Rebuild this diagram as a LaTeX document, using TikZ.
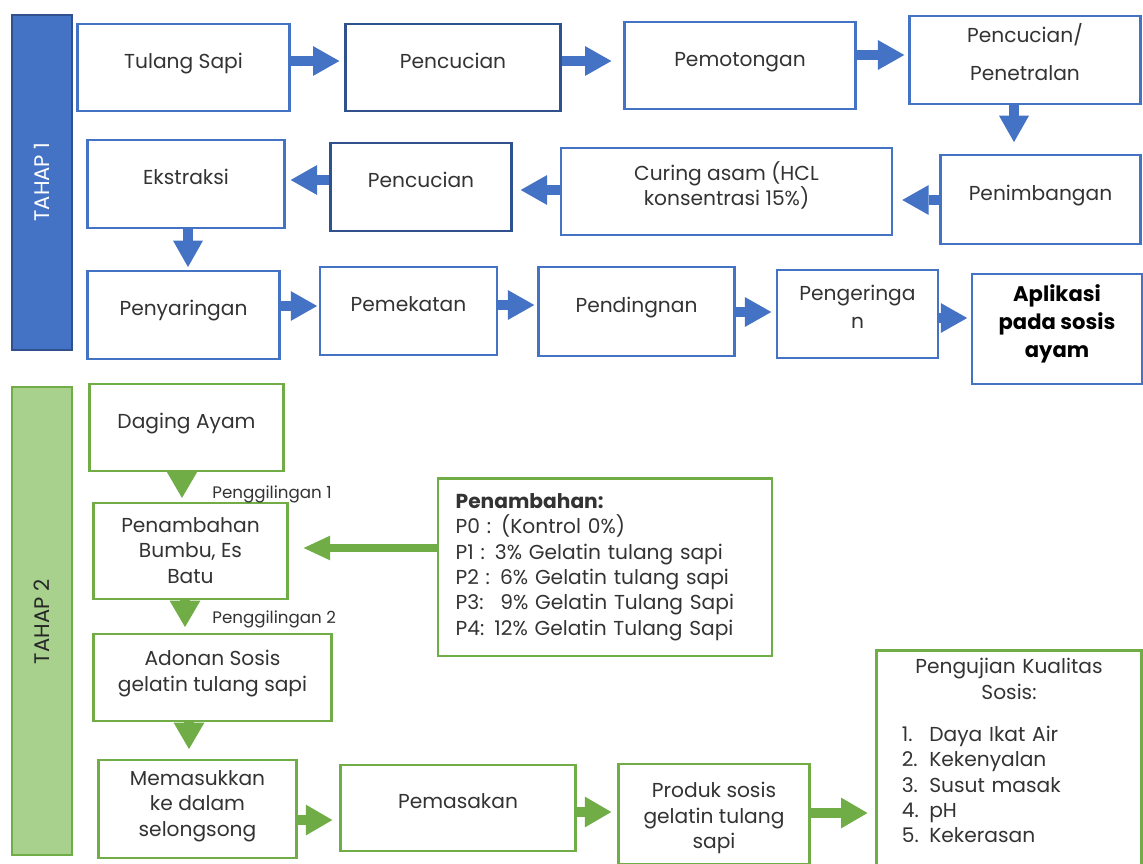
\documentclass[tikz,border=0pt]{standalone}
\usepackage{fontspec}
\setmainfont{Poppins}
\usetikzlibrary{arrows.meta}
\definecolor{bl}{HTML}{4472C4}
\definecolor{bldark}{HTML}{2F528F}
\definecolor{gr}{HTML}{70AD47}
\definecolor{grfill}{HTML}{A9D18E}
\definecolor{txt}{HTML}{333333}
\newcommand\bs[1][10pt]{\rule{0pt}{#1}}
\newcommand\es{\rule[-9pt]{0pt}{0pt}}
\tikzset{
  wh/.style 2 args={minimum width={#1*0.5669pt}, minimum height={#2*0.5669pt}},
  base/.style={inner sep=0pt, align=center, text=txt, font=\fontsize{11.5}{14.5}\selectfont},
  bbox/.style={base, draw=bl, line width=1.3pt, fill=white},
  bboxd/.style={bbox, draw=bldark},
  gbox/.style={base, draw=gr, line width=1.3pt, fill=white},
  barrow/.style={draw=bl, line width=5.5pt, -{Triangle[width=17pt,length=15pt,line width=0pt 0]}},
  garrow/.style={draw=gr, line width=6pt, -{Triangle[width=17.5pt,length=15pt,line width=0pt 0]}},
  hgarrow/.style={draw=gr, line width=4pt, -{Triangle[width=14pt,length=15pt,line width=0pt 0]}},
  smalllbl/.style={inner sep=0pt, text=txt, font=\fontsize{9.5}{11}\selectfont, anchor=west},
  tahaplbl/.style={inner sep=0pt, rotate=90, font=\fontsize{12}{14}\selectfont},
}
\begin{document}
\begin{tikzpicture}[x=0.02cm, y=-0.02cm]
\useasboundingbox (0,0) rectangle (1143,863);

% ---------- TAHAP 1 ----------
\node[draw=bldark, line width=1pt, fill=bl, inner sep=0pt, wh={60}{337}] (tahap1) at (42,182.5) {};
\node[tahaplbl, text=white] (tahap1lbl) at (42,182) {TAHAP 1};

\node[bbox,  wh={213}{87}] (tulang)  at (183.5,67.5) {\bs Tulang Sapi\es};
\node[bboxd, wh={216}{87}] (pencuc1) at (453,67.5)   {\bs Pencucian\es};
\node[bbox,  wh={232}{87}] (pemot)   at (740,65.5)   {\bs Pemotongan\es};
\node[bbox,  wh={232}{88}] (penetr)  at (1025,60)    {\bs Pencucian/\\[7.5pt]Penetralan\es};
\node[bbox,  wh={201}{89}] (penimb)  at (1040.5,199.5) {\bs Penimbangan\es};
\node[bbox,  wh={333}{87}] (curing)  at (726.5,191.5) {\bs Curing asam (HCL\\konsentrasi 15\%)\es};
\node[bboxd, wh={182}{88}] (pencuc2) at (421,187)    {\bs Pencucian\es};
\node[bbox,  wh={198}{88}] (ekstr)   at (186,184)    {\bs Ekstraksi\es};
\node[bbox,  wh={193}{88}] (penyar)  at (183.5,315)  {\bs Penyaringan\es};
\node[bbox,  wh={177}{88}] (pemek)   at (408.5,311)  {\bs Pemekatan\es};
\node[bbox,  wh={197}{89}] (pending) at (636.5,311.5) {\bs Pendingnan\es};
\node[bbox,  wh={161}{88}] (penger)  at (857.5,314)  {\bs Pengeringa\\[1.5pt]n\es};
\node[bbox,  wh={170}{110}, text=black, font=\fontsize{12}{16}\selectfont\bfseries] (aplik) at (1057,329) {\bs Aplikasi\\pada sosis\\ayam\es};

\draw[barrow, shorten >=2.8pt] (tulang.east |- 0,61)  -- (pencuc1.west |- 0,61);
\draw[barrow, shorten >=6.8pt] (pencuc1.east |- 0,61) -- (pemot.west |- 0,61);
\draw[barrow, shorten >=2.3pt] (pemot.east |- 0,55)   -- (penetr.west |- 0,55);
\draw[barrow, shorten >=6.8pt] (penetr.south -| 1014,0) -- (penimb.north -| 1014,0);
\draw[barrow, shorten >=5pt]   (penimb.west |- 0,200) -- (curing.east |- 0,200);
\draw[barrow, shorten >=4.5pt] (curing.west |- 0,190) -- (pencuc2.east |- 0,190);
\draw[barrow, shorten >=2.8pt] (pencuc2.west |- 0,180) -- (ekstr.east |- 0,180);
\draw[barrow, shorten >=1.7pt] (ekstr.south -| 188,0) -- (penyar.north -| 188,0);
\draw[barrow, shorten >=1.2pt] (penyar.east |- 0,306) -- (pemek.west |- 0,306);
\draw[barrow, shorten >=1.7pt] (pemek.east |- 0,305)  -- (pending.west |- 0,305);
\draw[barrow, shorten >=2.8pt] (pending.east |- 0,312) -- (penger.west |- 0,312);
\draw[barrow, shorten >=2.3pt] (penger.east |- 0,318) -- (aplik.west |- 0,318);

% ---------- TAHAP 2 ----------
\node[draw=gr, line width=1.5pt, fill=grfill, inner sep=0pt, wh={60}{470}] (tahap2) at (42,621) {};
\node[tahaplbl, text=black!85] (tahap2lbl) at (42,622) {TAHAP 2};

\node[gbox, wh={195}{87}] (daging)  at (186.5,427.5) {\bs Daging Ayam\es};
\node[gbox, wh={195}{88}] (bumbu)   at (190.5,551)   {\bs[16.5pt]Penambahan\\Bumbu, Es\\Batu\es};
\node[gbox, wh={239}{87}] (adonan)  at (212.5,677.5) {\bs Adonan Sosis\\gelatin tulang sapi\es};
\node[gbox, wh={199}{98}] (memasuk) at (197.5,809)   {\bs[11pt]Memasukkan\\ke dalam\\selongsong\es};
\node[gbox, wh={236}{86}] (pemasak) at (458,808)     {\bs Pemasakan\es};
\node[gbox, wh={192}{88}] (produk)  at (714,814)     {\bs[19.3pt]Produk sosis\\gelatin tulang\\sapi\es};
\node[gbox, wh={336}{178}, text width=170pt, align=left] (penamb) at (605,567)
  {\textbf{Penambahan:}\\
   P0 : (Kontrol 0\%)\\
   P1 : 3\% Gelatin tulang sapi\\
   P2 : 6\% Gelatin tulang sapi\\
   P3: \ 9\% Gelatin Tulang Sapi\\
   P4: 12\% Gelatin Tulang Sapi};
\node[gbox, wh={266}{240}, text width=130pt, align=left] (uji) at (1009,770)
  {{\centering Pengujian Kualitas\\ Sosis:\par}\vspace{12.5pt}%
   \hspace*{4pt}\begin{tabular}{@{}l@{\hspace{6pt}}l@{}}
   1. & Daya Ikat Air\\
   2. & Kekenyalan\\
   3. & Susut masak\\
   4. & pH\\
   5. & Kekerasan
   \end{tabular}\par\vspace{17.6pt}};

\node[smalllbl] (giling1) at (212,494) {Penggilingan 1};
\node[smalllbl] (giling2) at (212,619) {Penggilingan 2};

\draw[garrow, shorten >=2.3pt] (daging.south -| 182,0)  -- (bumbu.north -| 182,0);
\draw[garrow, shorten >=3.4pt] (bumbu.south -| 185,0)   -- (adonan.north -| 185,0);
\draw[garrow, shorten >=5.7pt] (adonan.south -| 189,0)  -- (memasuk.north -| 189,0);
\draw[garrow, shorten >=4pt]   (memasuk.east |- 0,820)  -- (pemasak.west |- 0,820);
\draw[garrow, shorten >=3.4pt] (pemasak.east |- 0,812)  -- (produk.west |- 0,812);
\draw[garrow, shorten >=4.5pt] (produk.east |- 0,813)   -- (uji.west |- 0,813);
\draw[hgarrow, shorten >=8.5pt] (penamb.west |- 0,548)  -- (bumbu.east |- 0,548);

\end{tikzpicture}
\end{document}
